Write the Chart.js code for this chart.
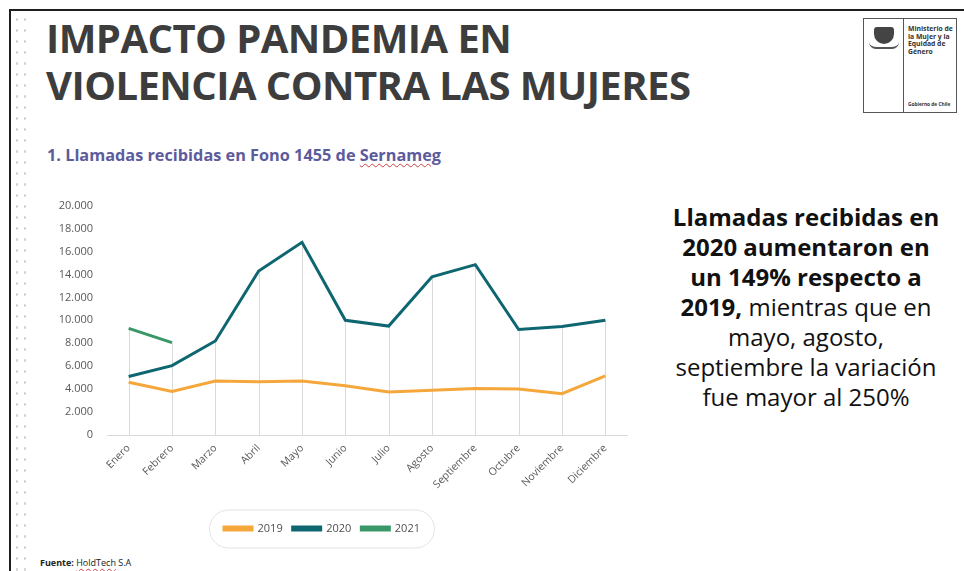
<!DOCTYPE html>
<html lang="es">
<head>
<meta charset="utf-8">
<title>Impacto pandemia en violencia contra las mujeres</title>
<script src="https://cdn.jsdelivr.net/npm/chart.js@4.4.1/dist/chart.umd.min.js"></script>
<style>
    html, body { margin: 0; padding: 0; background: #fff; }
    body { width: 964px; height: 571px; position: relative; overflow: hidden; font-family: 'Open Sans', sans-serif; }
    .frame { position: absolute; left: 9px; top: 9px; right: -5px; bottom: -5px; border-top: 2px solid #1e1e1e; border-left: 2px solid #1e1e1e; }
    .dots {
        position: absolute; left: 13px; top: 14px; width: 18px; height: 557px;
        background-image: radial-gradient(circle, #cfcfcf 1px, transparent 1.4px);
        background-size: 8px 11px;
    }
    .title {
        position: absolute; left: 46px; top: 14px; margin: 0;
        font-size: 40px; line-height: 47px; font-weight: 700; color: #3d3d3d;
        letter-spacing: -0.55px;
    }
    .subtitle {
        position: absolute; left: 47px; top: 144px; margin: 0;
        font-size: 16.3px; font-weight: 700; color: #5d5b9c;
    }
    .subtitle u, .source u { text-decoration: underline wavy #d04040; text-decoration-thickness: 1px; text-underline-offset: 2px; }
    .logo { position: absolute; left: 863px; top: 18px; width: 94px; height: 95px; border: 1px solid #555; box-sizing: border-box; }
    .logo .sep { position: absolute; left: 39px; top: 0; bottom: 0; border-left: 1px solid #555; }
    .logo .ministry { position: absolute; left: 44px; top: 6px; font-size: 6.8px; line-height: 7.6px; font-weight: 700; color: #333; white-space: nowrap; }
    .logo .gob { position: absolute; left: 44px; bottom: 5px; font-size: 4.8px; font-weight: 700; color: #333; white-space: nowrap; }
    .logo .crest { position: absolute; left: 10px; top: 8px; width: 20px; height: 17px; background: #444; border-radius: 3px 3px 10px 10px; }
    .logo .ribbon { position: absolute; left: 5px; top: 23px; width: 30px; height: 5px; border-bottom: 2px solid #555; border-radius: 0 0 8px 8px; }
    .note {
        position: absolute; left: 660px; top: 202px; width: 292px;
        text-align: center; font-size: 24px; line-height: 30px; color: #111;
    }
    .note b { font-weight: 700; }
    .source { position: absolute; left: 40px; top: 556px; font-size: 9px; color: #222; }
    #chart-wrap { position: absolute; left: 0; top: 185px; width: 640px; height: 375px; }
</style>
</head>
<body>
<div class="dots"></div>
<div class="frame"></div>

<h1 class="title">IMPACTO PANDEMIA EN<br>VIOLENCIA CONTRA LAS MUJERES</h1>
<p class="subtitle">1. Llamadas recibidas en Fono 1455 de <u>Sernameg</u></p>

<div class="logo">
    <div class="crest"></div>
    <div class="ribbon"></div>
    <div class="sep"></div>
    <div class="ministry">Ministerio de<br>la Mujer y la<br>Equidad de<br>Género</div>
    <div class="gob">Gobierno de Chile</div>
</div>

<div class="note">
    <b>Llamadas recibidas en</b><br>
    <b>2020 aumentaron en</b><br>
    <b>un 149% respecto a</b><br>
    <b>2019,</b> mientras que en<br>
    mayo, agosto,<br>
    septiembre la variación<br>
    fue mayor al 250%
</div>

<div class="source"><b>Fuente:</b> <u>HoldTech</u> S.A</div>

<div id="chart-wrap"><canvas id="callsChart" width="640" height="375"></canvas></div>

<script>
// monthly calls to Fono 1455
const months = ['Enero', 'Febrero', 'Marzo', 'Abril', 'Mayo', 'Junio', 'Julio', 'Agosto', 'Septiembre', 'Octubre', 'Noviembre', 'Diciembre'];
const calls2019 = [4600, 3800, 4700, 4650, 4700, 4300, 3750, 3900, 4050, 4000, 3600, 5150];
const calls2020 = [5100, 6050, 8200, 14300, 16800, 10000, 9500, 13800, 14850, 9200, 9450, 10000];
const calls2021 = [9300, 8050, null, null, null, null, null, null, null, null, null, null];
const yTicks = [0, 2000, 4000, 6000, 8000, 10000, 12000, 14000, 16000, 18000, 20000];

const tickColor = '#595959';
const lightGrey = '#d9d9d9';

// vertical drop lines from the highest point of each month down to the axis
const dropLines = {
    id: 'dropLines',
    beforeDatasetsDraw(chart) {
        const { ctx, scales: { x, y } } = chart;
        ctx.save();
        ctx.strokeStyle = lightGrey;
        ctx.lineWidth = 1;
        months.forEach((m, i) => {
            const vals = chart.data.datasets.map(ds => ds.data[i]).filter(v => v != null);
            if (!vals.length) return;
            const px = Math.round(x.getPixelForValue(i)) + 0.5;
            ctx.beginPath();
            ctx.moveTo(px, y.getPixelForValue(Math.max(...vals)));
            ctx.lineTo(px, y.getPixelForValue(0));
            ctx.stroke();
        });
        ctx.restore();
    }
};

// rounded pill drawn round the legend items
const legendPill = {
    id: 'legendPill',
    afterDraw(chart) {
        const boxes = chart.legend.legendHitBoxes;
        if (!boxes || !boxes.length) return;
        const left = Math.min(...boxes.map(b => b.left)) - 15;
        const right = Math.max(...boxes.map(b => b.left + b.width)) + 14;
        const cy = boxes[0].top + boxes[0].height / 2;
        const h = 38;
        const { ctx } = chart;
        ctx.save();
        ctx.strokeStyle = '#e3e3e3';
        ctx.lineWidth = 1;
        ctx.beginPath();
        ctx.roundRect(left + 0.5, cy - h / 2 + 0.5, right - left, h, h / 2);
        ctx.stroke();
        ctx.restore();
    }
};

function makeSeries(label, data, color) {
    return {
        label: label,
        data: data,
        borderColor: color,
        backgroundColor: color,
        borderWidth: 3,
        pointRadius: 0,
        tension: 0,
        spanGaps: false
    };
}

new Chart(document.getElementById('callsChart'), {
    type: 'line',
    data: {
        labels: months,
        datasets: [
            makeSeries('2019', calls2019, '#f5a73b'),
            makeSeries('2020', calls2020, '#0e6671'),
            makeSeries('2021', calls2021, '#3a9767')
        ]
    },
    options: {
        responsive: false,
        animation: false,
        layout: { padding: { left: 17, right: 13, top: 19, bottom: 16 } },
        scales: {
            x: {
                offset: true,
                grid: { display: false, drawTicks: false },
                border: { display: true, color: lightGrey, width: 1 },
                ticks: {
                    color: tickColor,
                    font: { family: 'Open Sans', size: 10.5 },
                    minRotation: 45,
                    maxRotation: 45,
                    autoSkip: false,
                    padding: 7
                },
                afterFit(scale) { scale.height = 78; }
            },
            y: {
                min: 0,
                max: 20000,
                grid: { display: false, drawTicks: false },
                border: { display: false },
                afterBuildTicks(scale) { scale.ticks = yTicks.map(v => ({ value: v })); },
                ticks: {
                    color: tickColor,
                    font: { family: 'Open Sans', size: 11 },
                    padding: 14,
                    callback: v => v.toLocaleString('de-DE')
                },
                afterFit(scale) { scale.width = 90; }
            }
        },
        plugins: {
            legend: {
                position: 'bottom',
                labels: {
                    color: '#505050',
                    font: { family: 'Open Sans', size: 11 },
                    boxWidth: 28,
                    boxHeight: 3,
                    padding: 10
                }
            },
            tooltip: { enabled: false }
        }
    },
    plugins: [dropLines, legendPill]
});
</script>
</body>
</html>
